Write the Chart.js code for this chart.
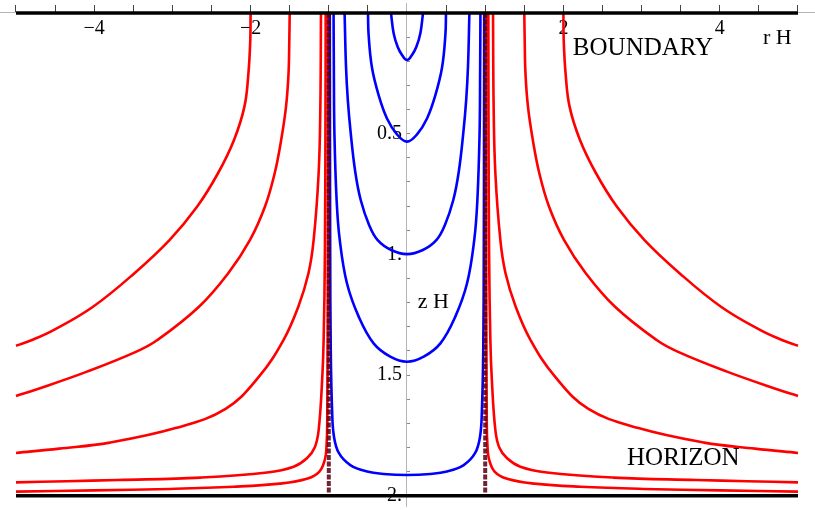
<!DOCTYPE html>
<html lang="en">
<head>
    <meta charset="UTF-8">
    <title>Boundary to horizon curves</title>
    <script src="https://cdn.jsdelivr.net/npm/chart.js"></script>
    <style>
        html, body {
            margin: 0;
            padding: 0;
            background: #fff;
        }
        canvas {
            display: block;
        }
    </style>
</head>
<body>

<canvas id="plot" width="815" height="510"></canvas>

<script>
    // axis ticks (rH along the top, zH down the middle)
    const rTicks = [-5, -4.5, -4, -3.5, -3, -2.5, -2, -1.5, -1, -0.5, 0.5, 1, 1.5, 2, 2.5, 3, 3.5, 4, 4.5, 5];
    const rLabelAt = [-4, -2, 2, 4];
    const rLabelText = ['\u22124', '\u22122', '2', '4'];
    const zTicks = [0, 0.1, 0.2, 0.3, 0.4, 0.5, 0.6, 0.7, 0.8, 0.9, 1, 1.1, 1.2, 1.3, 1.4, 1.5, 1.6, 1.7, 1.8, 1.9, 2];
    const zLabelAt = [0.5, 1, 1.5, 2];
    const zLabelText = ['0.5 ', '1. ', '1.5 ', '2. '];

    // boundary (z = 0) and horizon (z = 2)
    const edgeR = [-5, 5];
    const boundaryZ = [0, 0];
    const horizonZ = [2, 2];

    // dashed verticals at r = -1 and r = 1
    const wallZ = [0, 2];
    const wallLeftR = [-1, -1];
    const wallRightR = [1, 1];

    // blue curves: both ends on the boundary
    const blue1R = [-0.205, -0.171, -0.12, -0.064, 0, 0.064, 0.12, 0.171, 0.205];
    const blue1Z = [0, 0.084, 0.14, 0.174, 0.195, 0.174, 0.14, 0.084, 0];
    const blue2R = [-0.499, -0.491, -0.448, -0.363, -0.256, -0.128, 0, 0.128, 0.256, 0.363, 0.448, 0.491, 0.499];
    const blue2Z = [0, 0.09, 0.226, 0.34, 0.437, 0.503, 0.533, 0.503, 0.437, 0.34, 0.226, 0.09, 0];
    const blue3R = [-0.798, -0.78, -0.757, -0.72, -0.661, -0.592, -0.485, -0.375, -0.202, 0, 0.202, 0.375, 0.485, 0.592, 0.661, 0.72, 0.757, 0.78, 0.798];
    const blue3Z = [0, 0.222, 0.36, 0.497, 0.66, 0.775, 0.878, 0.941, 0.982, 0.999, 0.982, 0.941, 0.878, 0.775, 0.66, 0.497, 0.36, 0.222, 0];
    const blue4R = [-0.939, -0.935, -0.928, -0.9, -0.86, -0.768, -0.618, -0.427, -0.214, 0, 0.214, 0.427, 0.618, 0.768, 0.86, 0.9, 0.928, 0.935, 0.939];
    const blue4Z = [0, 0.25, 0.5, 0.775, 0.94, 1.12, 1.258, 1.369, 1.424, 1.445, 1.424, 1.369, 1.258, 1.12, 0.94, 0.775, 0.5, 0.25, 0];
    const blue5R = [-0.987, -0.985, -0.982, -0.975, -0.958, -0.934, -0.87, -0.725, -0.511, -0.298, 0, 0.298, 0.511, 0.725, 0.87, 0.934, 0.958, 0.975, 0.982, 0.985, 0.987];
    const blue5Z = [0, 0.5, 1, 1.4, 1.645, 1.755, 1.824, 1.873, 1.9, 1.91, 1.914, 1.91, 1.9, 1.873, 1.824, 1.755, 1.645, 1.4, 1, 0.5, 0];

    // red curves: from the boundary out towards the horizon, one arm per side
    const redAZ = [0, 0.112, 0.25, 0.388, 0.526, 0.664, 0.803, 0.941, 1.078, 1.217, 1.313, 1.355, 1.379];
    const redALeftR = [-2, -2.004, -2.028, -2.079, -2.212, -2.417, -2.685, -3.037, -3.485, -4.015, -4.514, -4.795, -5];
    const redARightR = [2, 2.004, 2.028, 2.079, 2.212, 2.417, 2.685, 3.037, 3.485, 4.015, 4.514, 4.795, 5];
    const redBZ = [0, 0.112, 0.25, 0.388, 0.526, 0.664, 0.803, 0.941, 1.078, 1.217, 1.355, 1.403, 1.486, 1.559, 1.587];
    const redBLeftR = [-1.5, -1.505, -1.515, -1.547, -1.609, -1.692, -1.817, -2.009, -2.286, -2.66, -3.192, -3.46, -4.092, -4.731, -5];
    const redBRightR = [1.5, 1.505, 1.515, 1.547, 1.609, 1.692, 1.817, 2.009, 2.286, 2.66, 3.192, 3.46, 4.092, 4.731, 5];
    const redCZ = [0, 0.388, 0.664, 0.941, 1.078, 1.217, 1.355, 1.507, 1.64, 1.72, 1.78, 1.805, 1.823];
    const redCLeftR = [-1.1, -1.108, -1.13, -1.194, -1.26, -1.39, -1.58, -1.893, -2.32, -2.96, -3.8, -4.45, -5];
    const redCRightR = [1.1, 1.108, 1.13, 1.194, 1.26, 1.39, 1.58, 1.893, 2.32, 2.96, 3.8, 4.45, 5];
    const redDZ = [0, 0.5, 1, 1.355, 1.52, 1.728, 1.8, 1.845, 1.88, 1.904, 1.925, 1.935, 1.94, 1.945];
    const redDLeftR = [-1.04, -1.043, -1.05, -1.066, -1.085, -1.13, -1.18, -1.28, -1.45, -1.79, -2.64, -3.7, -4.35, -5];
    const redDRightR = [1.04, 1.043, 1.05, 1.066, 1.085, 1.13, 1.18, 1.28, 1.45, 1.79, 2.64, 3.7, 4.35, 5];
    const redEZ = [0, 1, 1.7, 1.8, 1.85, 1.9, 1.93, 1.95, 1.963, 1.972, 1.978, 1.983];
    const redELeftR = [-1.01, -1.012, -1.02, -1.03, -1.05, -1.12, -1.28, -1.63, -2.22, -3.03, -4, -5];
    const redERightR = [1.01, 1.012, 1.02, 1.03, 1.05, 1.12, 1.28, 1.63, 2.22, 3.03, 4, 5];

    const RED = '#ff0000';
    const BLUE = '#0000ff';
    const SERIF = '"Liberation Serif", "Times New Roman", serif';

    function pts(rs, zs) {
        return rs.map((r, i) => ({x: r, y: zs[i]}));
    }

    function curve(rs, zs, color) {
        return {
            data: pts(rs, zs),
            borderColor: color,
            borderWidth: 2.6,
            tension: 0.4
        };
    }

    function straight(rs, zs, color, width, dash) {
        return {
            data: pts(rs, zs),
            borderColor: color,
            borderWidth: width,
            borderDash: dash || [],
            tension: 0
        };
    }

    const WALL = 'rgba(88, 0, 18, 0.86)';
    const datasets = [
        straight(edgeR, boundaryZ, '#000', 3.5),
        straight(edgeR, horizonZ, '#000', 3.5),
        straight(wallLeftR, wallZ, WALL, 4, [5, 1.5]),
        straight(wallRightR, wallZ, WALL, 4, [5, 1.5]),
        curve(blue1R, blue1Z, BLUE),
        curve(blue2R, blue2Z, BLUE),
        curve(blue3R, blue3Z, BLUE),
        curve(blue4R, blue4Z, BLUE),
        curve(blue5R, blue5Z, BLUE),
        curve(redALeftR, redAZ, RED),
        curve(redARightR, redAZ, RED),
        curve(redBLeftR, redBZ, RED),
        curve(redBRightR, redBZ, RED),
        curve(redCLeftR, redCZ, RED),
        curve(redCRightR, redCZ, RED),
        curve(redDLeftR, redDZ, RED),
        curve(redDRightR, redDZ, RED),
        curve(redELeftR, redEZ, RED),
        curve(redERightR, redEZ, RED)
    ];

    // words written inside the plot
    const notes = [
        {text: 'BOUNDARY', r: 3.018, z: 0.145, size: 25, align: 'center'},
        {text: 'HORIZON', r: 3.533, z: 1.844, size: 25, align: 'center'},
        {text: 'r H', r: 4.552, z: 0.105, size: 22, align: 'left'},
        {text: 'z H', r: 0.137, z: 1.2, size: 22, align: 'left'}
    ];

    const notesPlugin = {
        id: 'notes',
        afterDatasetsDraw(chart) {
            const ctx = chart.ctx;
            const xs = chart.scales.x;
            const ys = chart.scales.y;
            ctx.save();
            ctx.fillStyle = '#000';
            ctx.textBaseline = 'middle';
            notes.forEach(n => {
                ctx.font = n.size + 'px ' + SERIF;
                ctx.textAlign = n.align;
                ctx.fillText(n.text, xs.getPixelForValue(n.r), ys.getPixelForValue(n.z));
            });
            ctx.restore();
        }
    };

    function noPadding(scale) {
        scale.paddingLeft = 0;
        scale.paddingRight = 0;
        scale.paddingTop = 0;
        scale.paddingBottom = 0;
    }

    new Chart(document.getElementById('plot'), {
        type: 'line',
        data: {datasets: datasets},
        plugins: [notesPlugin],
        options: {
            responsive: false,
            animation: false,
            layout: {padding: {top: 3, bottom: 4, left: 0, right: 0}},
            elements: {point: {radius: 0, hoverRadius: 0}},
            plugins: {legend: {display: false}, tooltip: {enabled: false}},
            scales: {
                x: {
                    type: 'linear',
                    position: {y: 0},
                    min: -5.2046,
                    max: 5.2174,
                    afterBuildTicks: s => { s.ticks = rTicks.map(v => ({value: v})); },
                    afterFit: noPadding,
                    grid: {drawOnChartArea: false, drawTicks: true, tickLength: -8, color: '#444'},
                    border: {display: true, color: '#b5b5b5', width: 1},
                    ticks: {
                        autoSkip: false,
                        maxRotation: 0,
                        padding: 12,
                        color: '#000',
                        font: {family: SERIF, size: 20},
                        callback: v => {
                            const i = rLabelAt.indexOf(v);
                            return i < 0 ? '' : rLabelText[i];
                        }
                    }
                },
                y: {
                    type: 'linear',
                    position: {x: 0},
                    reverse: true,
                    min: -0.0414,
                    max: 2.0427,
                    afterBuildTicks: s => { s.ticks = zTicks.map(v => ({value: v})); },
                    afterFit: noPadding,
                    grid: {drawOnChartArea: false, drawTicks: true, tickLength: -4, color: '#888'},
                    border: {display: true, color: '#b5b5b5', width: 1},
                    ticks: {
                        autoSkip: false,
                        color: '#000',
                        font: {family: SERIF, size: 20},
                        callback: v => {
                            const i = zLabelAt.indexOf(v);
                            return i < 0 ? '' : zLabelText[i];
                        }
                    }
                }
            }
        }
    });
</script>
</body>
</html>
